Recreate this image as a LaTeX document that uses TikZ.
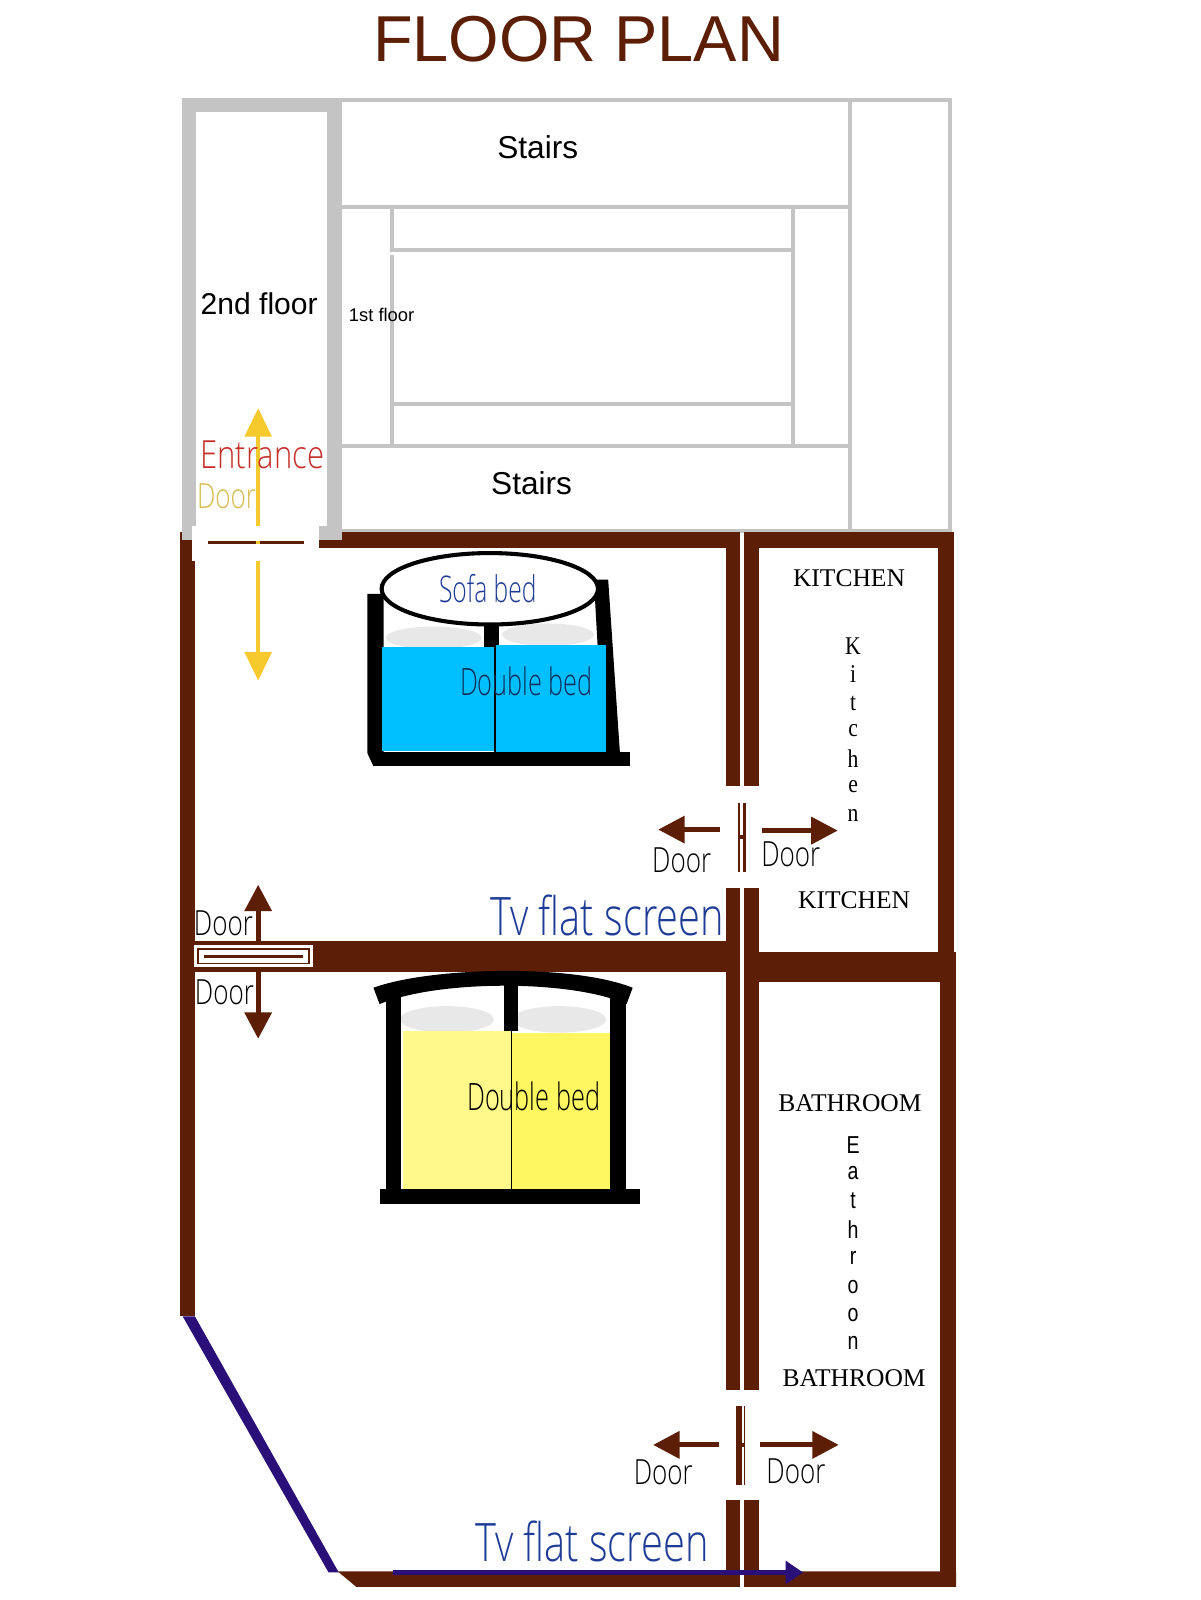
\documentclass[tikz,border=0pt]{standalone}
\usepackage{fontspec}
\setmainfont{Liberation Sans}
\newfontfamily\serifc{Liberation Serif}
\newfontfamily\serifn[FakeStretch=0.85]{Liberation Serif}
\newfontfamily\sansn[FakeStretch=0.8]{Liberation Sans}
\newfontfamily\hand[FakeStretch=0.67]{Open Sans Light}
\newfontfamily\handw[FakeStretch=0.75]{Open Sans Light}
\newfontfamily\handx[FakeStretch=0.8]{Open Sans Light}
\usetikzlibrary{arrows.meta}
\definecolor{wall}{HTML}{5C1F06}
\definecolor{grayw}{HTML}{C4C4C4}
\definecolor{navy}{HTML}{2A0F78}
\definecolor{tvblue}{HTML}{1E3C96}
\definecolor{bedblue}{HTML}{00BFFF}
\definecolor{ylw}{HTML}{F6C92C}
\definecolor{pillow}{HTML}{E8E8E8}
\definecolor{doorylw}{HTML}{D6BC50}
\definecolor{entr}{HTML}{C4302A}
\definecolor{bedtext}{HTML}{12305E}
\tikzset{
  x=1pt,y=-1pt,
  lbl/.style={inner sep=0pt,outer sep=0pt,anchor=center},
  sans/.style={lbl,font=\fontsize{#1}{#1}\selectfont},
  handt/.style={lbl,font=\fontsize{#1}{#1}\hand},
  handu/.style={lbl,font=\fontsize{#1}{#1}\handw},
  handv/.style={lbl,font=\fontsize{#1}{#1}\handx},
  serift/.style={lbl,font=\fontsize{#1}{#1}\serifc},
  serifv/.style={lbl,font=\fontsize{#1}{#1}\serifn},
  sansv/.style={lbl,font=\fontsize{#1}{#1}\sansn},
  thingray/.style={draw=grayw,line width=4pt},
  wallfill/.style={fill=wall,draw=none},
  brownarrow/.style={draw=wall,line width=5pt,-{Triangle[width=26pt,length=26pt]}},
  yelarrow/.style={draw=ylw,line width=4pt,-{Triangle[width=26pt,length=28pt]}},
  bluearrow/.style={draw=navy,line width=4pt,-{Triangle[width=22pt,length=17pt]}},
  doorbar/.style={fill=wall,draw=none},
  blk/.style={fill=black,draw=none},
}
\begin{document}
\begin{tikzpicture}
\useasboundingbox (0,0) rectangle (1176,1568);
\fill[white] (0,0) rectangle (1176,1568);

\node[sans=63.6,text=wall] (title) at (567,38) {FLOOR PLAN};

% thin grey lines of the upper floors
\draw[thingray] (335,98) -- (931,98) -- (931,520) -- (335,520);
\draw[thingray] (833,98) -- (833,520);
\draw[thingray] (335,203) -- (833,203);
\draw[thingray] (335,437) -- (833,437);
\draw[grayw,line width=3.5pt] (384,203) -- (384,245) -- (777,245);
\draw[grayw,line width=3.5pt] (384,250) -- (384,437);
\draw[grayw,line width=3.5pt] (777,203) -- (777,437);
\draw[grayw,line width=3.5pt] (384,396) -- (777,396);

% brown walls
\fill[wallfill] (176,521) rectangle (711,537);
\fill[wallfill] (729,521) rectangle (935,537);
\fill[wallfill] (176,521) rectangle (191,1290);
\fill[wallfill] (919,521) rectangle (935,945);
\fill[wallfill] (921,945) rectangle (937,1555);
\fill[wallfill] (711,521) rectangle (725,770);
\fill[wallfill] (729,521) rectangle (744,770);
\fill[wallfill] (711,870) rectangle (725,1362);
\fill[wallfill] (729,870) rectangle (744,1362);
\fill[wallfill] (711,1470) rectangle (725,1555);
\fill[wallfill] (729,1470) rectangle (744,1555);
\fill[wallfill] (191,922) rectangle (725,953);
\fill[wallfill] (729,933) rectangle (937,962);
\fill[wallfill] (331,1540) -- (937,1540) -- (937,1555) -- (349,1555) -- cycle;
\fill[white] (725,1540) rectangle (729,1555);

% thick grey stair well, over the brown wall
\fill[grayw] (178,96) rectangle (335,529);
\fill[white] (192,110) rectangle (320,515);

% diagonal and bottom blue line
\fill[navy] (179,1290) -- (191,1290) -- (332,1541) -- (322,1541) -- cycle;
\coordinate (tvS) at (385,1541);
\coordinate (tvE) at (787,1541);
\draw[bluearrow] (tvS) -- (tvE);

% entrance door
\fill[white] (188,515) rectangle (313,550);
\coordinate (entUpS) at (253,515);
\coordinate (entUpE) at (253,400);
\coordinate (entDnS) at (253,550);
\coordinate (entDnE) at (253,667);
\draw[yelarrow] (entUpS) -- (entUpE);
\draw[yelarrow] (entDnS) -- (entDnE);
\fill[wall] (204,530.5) rectangle (298,533.5);
\fill[ylw] (251,530.5) rectangle (255,533.5);

% room door
\fill[white] (190,926) rectangle (307,948);
\draw[wall,line width=1.5pt] (194,930) rectangle (303,944);
\fill[wall] (200,935.5) rectangle (297,938.5);
\coordinate (rmUpS) at (253,926);
\coordinate (rmUpE) at (253,867);
\coordinate (rmDnS) at (253,948);
\coordinate (rmDnE) at (253,1018);
\draw[brownarrow] (rmUpS) -- (rmUpE);
\draw[brownarrow] (rmDnS) -- (rmDnE);

% kitchen door
\fill[doorbar] (723,787) rectangle (725.5,855);
\fill[doorbar] (728,787) rectangle (731,855);
\fill[doorbar] (725,818) rectangle (728,822);
\coordinate (kdLS) at (706,813);
\coordinate (kdLE) at (645,813);
\coordinate (kdRS) at (747,814);
\coordinate (kdRE) at (821,814);
\draw[brownarrow] (kdLS) -- (kdLE);
\draw[brownarrow] (kdRS) -- (kdRE);

% bathroom door
\fill[doorbar] (721,1378) rectangle (727,1455);
\fill[doorbar] (729,1378) rectangle (730.5,1455);
\fill[doorbar] (727,1414) rectangle (729,1418);
\coordinate (bdLS) at (705,1416);
\coordinate (bdLE) at (640,1416);
\coordinate (bdRS) at (745,1416);
\coordinate (bdRE) at (822,1416);
\draw[brownarrow] (bdLS) -- (bdLE);
\draw[brownarrow] (bdRS) -- (bdRE);

% sofa + blue bed
\fill[pillow] (425,625) ellipse [x radius=47,y radius=11];
\fill[pillow] (537,622) ellipse [x radius=45,y radius=11];
\fill[blk] (360,582) -- (376,582) -- (376,740) -- (366,751) -- (360,738) -- cycle;
\fill[blk] (582,568) -- (596,568) -- (608,745) -- (592,745) -- cycle;
\fill[blk] (474,610) rectangle (489,636);
\fill[bedblue] (374,634) rectangle (486,736);
\fill[bedblue] (486,632) rectangle (594,738);
\draw[black,line width=1.2pt] (485,634) -- (485,738);
\fill[blk] (366,737) rectangle (617,751);
\draw[black,line width=4pt,fill=white] (480,577) ellipse [x radius=106,y radius=35];

% yellow bed
\fill[pillow] (438,999) ellipse [x radius=46,y radius=13];
\fill[pillow] (548,999) ellipse [x radius=46,y radius=13];
\fill[blk] (378,975) rectangle (393,1170);
\fill[blk] (598,975) rectangle (613,1170);
\fill[blk] (494,955) rectangle (508,1010);
\fill[blk] (366,968) .. controls (420,948) and (560,944) .. (620,968) -- (614,984) .. controls (560,960) and (430,960) .. (372,984) -- cycle;
\fill[yellow!45!white] (395,1010) rectangle (501,1167);
\fill[yellow!62!white] (502,1012) rectangle (598,1168);
\draw[black,line width=1pt] (501,1010) -- (501,1167);
\fill[blk] (372,1165) rectangle (627,1180);

% labels
\node[sans=29.5] (l2nd) at (254,298) {2nd floor};
\node[sans=18] (l1st) at (374,309) {1st floor};
\node[sans=31] (st1) at (527,144) {Stairs};
\node[sans=31] (st2) at (521,474) {Stairs};
\node[handv=38,text=entr] (entr) at (257,446) {Entrance};
\node[handu=34,text=doorylw] (dy) at (222,486) {Door};
\node[handt=36,text=tvblue] (sofa) at (478,577) {Sofa bed};
\node[handt=37,text=bedtext] (db1) at (516,668) {Double bed};
\node[handt=37,text=black] (db2) at (523,1074) {Double bed};
\node[handu=52,text=tvblue] (tv1) at (595,897) {Tv flat screen};
\node[handu=52,text=tvblue] (tv2) at (580,1511) {Tv flat screen};
\node[handu=34] (d1) at (219,905) {Door};
\node[handu=34] (d2) at (220,972) {Door};
\node[handu=34] (d3) at (668,843) {Door};
\node[handu=34] (d4) at (775,837) {Door};
\node[handu=34] (d5) at (650,1443) {Door};
\node[handu=34] (d6) at (780,1442) {Door};
\node[serift=25] (k1) at (832,567) {KITCHEN};
\node[serift=25] (k2) at (837,882) {KITCHEN};
\node[serift=25] (b1) at (833,1081) {BATHROOM};
\node[serift=25] (b2) at (837,1351) {BATHROOM};
\node[serifv=25] (kv1) at (836,633) {K};
\node[serifv=25] (kv2) at (836,661) {i};
\node[serifv=25] (kv3) at (836,689) {t};
\node[serifv=25] (kv4) at (836,716) {c};
\node[serifv=25] (kv5) at (836,743) {h};
\node[serifv=25] (kv6) at (836,771) {e};
\node[serifv=25] (kv7) at (836,799) {n};
\node[sansv=24] (bv1) at (836,1122) {E};
\node[sansv=24] (bv2) at (836,1150) {a};
\node[sansv=24] (bv3) at (836,1177) {t};
\node[sansv=24] (bv4) at (836,1205) {h};
\node[sansv=24] (bv5) at (836,1233) {r};
\node[sansv=24] (bv6) at (836,1261) {o};
\node[sansv=24] (bv7) at (836,1289) {o};
\node[sansv=24] (bv8) at (836,1316) {n};
\end{tikzpicture}
\end{document}
